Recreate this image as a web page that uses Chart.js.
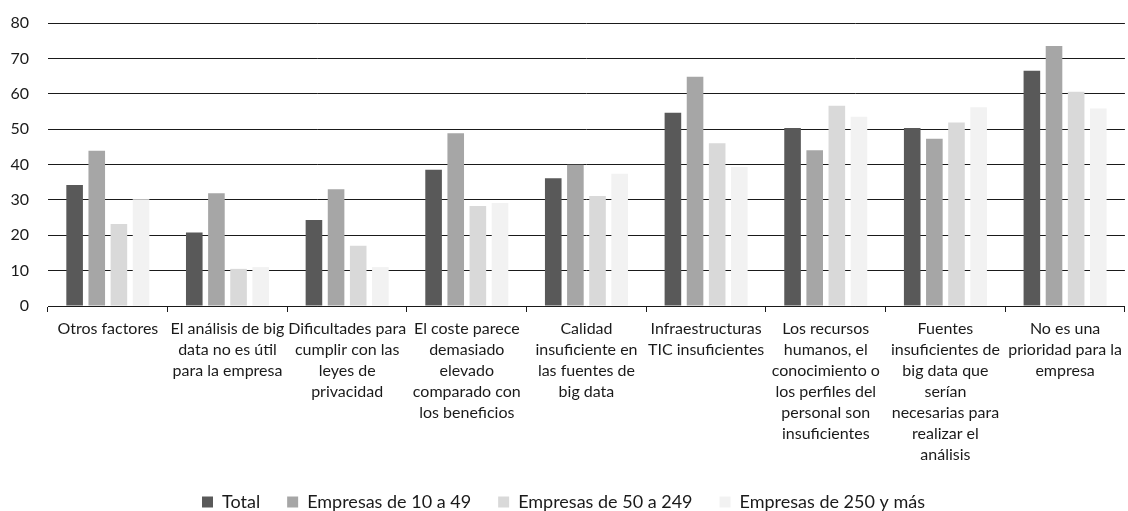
<!DOCTYPE html>
<html>
<head>
<meta charset="utf-8">
<script src="https://cdn.jsdelivr.net/npm/chart.js@4"></script>
<style>
  body { margin: 0; background: #fff; }
  #wrap { width: 1128px; height: 511px; }
</style>
</head>
<body>
<div id="wrap"><canvas id="chart"></canvas></div>
<script>
// Categorías (etiquetas del eje X, ya partidas en líneas)
const categories = [
  ["Otros factores"],
  ["El análisis de big", "data no es útil", "para la empresa"],
  ["Dificultades para", "cumplir con las", "leyes de", "privacidad"],
  ["El coste parece", "demasiado", "elevado", "comparado con", "los beneficios"],
  ["Calidad", "insuficiente en", "las fuentes de", "big data"],
  ["Infraestructuras", "TIC insuficientes"],
  ["Los recursos", "humanos, el", "conocimiento o", "los perfiles del", "personal son", "insuficientes"],
  ["Fuentes", "insuficientes de", "big data que", "serían", "necesarias para", "realizar el", "análisis"],
  ["No es una", "prioridad para la", "empresa"],
];

const seriesNames = ["Total", "Empresas de 10 a 49", "Empresas de 50 a 249", "Empresas de 250 y más"];

const total = [34.2, 20.8, 24.3, 38.5, 36.1, 54.6, 50.3, 50.3, 66.5];
const emp10a49 = [43.9, 31.9, 33.0, 48.8, 39.9, 64.8, 44.0, 47.3, 73.5];
const emp50a249 = [23.2, 10.5, 17.0, 28.3, 31.1, 46.0, 56.6, 51.9, 60.6];
const emp250mas = [30.2, 11.0, 11.0, 29.1, 37.4, 39.3, 53.5, 56.2, 55.8];

const yTicks = [0, 10, 20, 30, 40, 50, 60, 70, 80];

const colors = ["#595959", "#a6a6a6", "#d9d9d9", "#f2f2f2"];

const fontFamily = "Lato, 'Open Sans', sans-serif";

// Altura fija de la leyenda para que quede pegada al pie
const legendHeight = {
  id: "legendHeight",
  beforeInit(chart) {
    const originalFit = chart.legend.fit;
    chart.legend.fit = function fit() {
      originalFit.bind(chart.legend)();
      this.height = 45;
    };
  },
};

window.onload = () => {
  const ctx = document.getElementById("chart").getContext("2d");
  const values = [total, emp10a49, emp50a249, emp250mas];

  new Chart(ctx, {
    type: "bar",
    data: {
      labels: categories,
      datasets: values.map((v, i) => ({
        label: seriesNames[i],
        data: v,
        backgroundColor: colors[i],
        borderWidth: 0,
        barPercentage: 0.75,
        categoryPercentage: 0.74,
      })),
    },
    plugins: [legendHeight],
    options: {
      responsive: true,
      maintainAspectRatio: false,
      animation: false,
      layout: { padding: { top: 23, right: 1, left: 0, bottom: 0 } },
      plugins: {
        tooltip: { enabled: false },
        legend: {
          position: "bottom",
          labels: {
            boxWidth: 11,
            boxHeight: 11,
            padding: 27,
            color: "#1a1a1a",
            font: { family: fontFamily, size: 18 },
          },
        },
      },
      scales: {
        x: {
          afterFit: (scale) => {
            scale.height = 160;
          },
          grid: {
            display: true,
            offset: true,
            drawOnChartArea: false,
            drawTicks: true,
            tickLength: 6,
            color: "#1a1a1a",
          },
          border: { display: true, color: "#1a1a1a", width: 1 },
          ticks: {
            color: "#1a1a1a",
            maxRotation: 0,
            autoSkip: false,
            padding: 6,
            font: { family: fontFamily, size: 16, lineHeight: 1.3125 },
          },
        },
        y: {
          min: 0,
          max: 80,
          afterFit: (scale) => {
            scale.width = 48;
            scale.paddingTop = 0;
            scale.paddingBottom = 0;
          },
          afterBuildTicks: (scale) => {
            scale.ticks = yTicks.map((v) => ({ value: v }));
          },
          grid: { color: "#1a1a1a", lineWidth: 1, drawTicks: false },
          border: { display: false },
          ticks: {
            color: "#1a1a1a",
            padding: 19,
            font: { family: fontFamily, size: 16 },
          },
        },
      },
    },
  });
};
</script>
</body>
</html>
